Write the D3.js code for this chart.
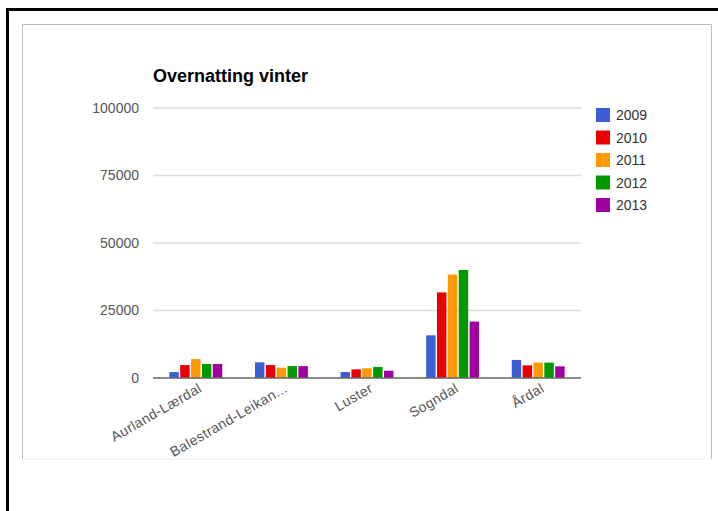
<!DOCTYPE html>
<html>
<head>
<meta charset="utf-8">
<script src="https://cdn.jsdelivr.net/npm/d3@7/dist/d3.min.js"></script>
<style>
  html, body { margin: 0; padding: 0; background: #fff; }
  svg { display: block; }
  text { font-family: Arial, "Liberation Sans", sans-serif; }
</style>
</head>
<body>
<svg id="chart" width="718" height="511"></svg>
<script>
// Winter overnight stays per municipality, 2009–2013
const categories = ["Aurland-Lærdal", "Balestrand-Leikan...", "Luster", "Sogndal", "Årdal"];
const years = ["2009", "2010", "2011", "2012", "2013"];
const v2009 = [2200, 5800, 2200, 15800, 6700];
const v2010 = [4800, 4800, 3200, 31700, 4700];
const v2011 = [7000, 3800, 3600, 38300, 5700];
const v2012 = [5200, 4400, 4100, 40000, 5700];
const v2013 = [5200, 4400, 2700, 20900, 4300];
const series = [v2009, v2010, v2011, v2012, v2013];
const yTicks = [0, 25000, 50000, 75000, 100000];
const colors = ["#3b5fd6", "#ea0000", "#ff9900", "#009a00", "#a000a0"];

const svg = d3.select("#chart");

// outer frame (black) and inner panel (grey)
svg.append("path")
  .attr("d", "M7.5,520 L7.5,9.5 L730,9.5")
  .attr("fill", "none").attr("stroke", "#000").attr("stroke-width", 3);
svg.append("path")
  .attr("d", "M22.5,459 L22.5,24.5 L711.5,24.5 L711.5,459")
  .attr("fill", "none").attr("stroke", "#bdbdbd").attr("stroke-width", 1);
svg.append("line")
  .attr("x1", 22.5).attr("x2", 711.5).attr("y1", 459.5).attr("y2", 459.5)
  .attr("stroke", "#f0f0f0").attr("stroke-width", 1);

const plot = { left: 153, right: 581, top: 108, bottom: 378 };

const x0 = d3.scaleBand().domain(categories).range([plot.left, plot.right]).padding(0);
const groupW = x0.bandwidth() * 0.618;
const x1 = d3.scaleBand().domain(years).range([0, groupW]).paddingInner(0.13).paddingOuter(0);
const y = d3.scaleLinear().domain([0, 100000]).range([plot.bottom, plot.top]);

// gridlines
svg.append("g").selectAll("line")
  .data(yTicks.filter(d => d !== 0))
  .join("line")
  .attr("x1", plot.left).attr("x2", plot.right)
  .attr("y1", d => y(d)).attr("y2", d => y(d))
  .attr("stroke", "#dcdcdc").attr("stroke-width", 1.5);

// y axis labels
const yAxis = d3.axisLeft(y).tickValues(yTicks).tickSize(0).tickPadding(14).tickFormat(d3.format("d"));
const gy = svg.append("g").attr("transform", `translate(${plot.left},0)`).call(yAxis);
gy.select(".domain").remove();
gy.selectAll("text")
  .attr("fill", "#555").attr("font-size", 14)
  .attr("font-family", "Arial, 'Liberation Sans', sans-serif");

// bars
const rows = categories.map((c, i) => ({ cat: c, vals: series.map(s => s[i]) }));
const groups = svg.append("g").selectAll("g")
  .data(rows)
  .join("g")
  .attr("transform", d => `translate(${x0(d.cat) + (x0.bandwidth() - groupW) / 2},0)`);
groups.selectAll("rect")
  .data(d => d.vals.map((v, k) => ({ year: years[k], v, k })))
  .join("rect")
  .attr("x", d => x1(d.year))
  .attr("width", x1.bandwidth())
  .attr("y", d => y(d.v))
  .attr("height", d => y(0) - y(d.v))
  .attr("fill", d => colors[d.k]);

// baseline
svg.append("line")
  .attr("x1", plot.left).attr("x2", plot.right)
  .attr("y1", y(0)).attr("y2", y(0))
  .attr("stroke", "#666").attr("stroke-width", 1.5);

// category labels, rotated
svg.append("g").selectAll("text")
  .data(categories)
  .join("text")
  .attr("transform", d => `translate(${x0(d) + x0.bandwidth() / 2 + 7},${plot.bottom + 13}) rotate(-30)`)
  .attr("text-anchor", "end")
  .attr("font-size", 14)
  .attr("letter-spacing", 0.4)
  .attr("fill", "#555")
  .text(d => d);

// title
svg.append("text")
  .attr("x", 153).attr("y", 82)
  .attr("font-size", 18).attr("font-weight", "bold").attr("fill", "#000")
  .text("Overnatting vinter");

// legend
const legend = svg.append("g").attr("transform", "translate(596,108)");
const li = legend.selectAll("g").data(years).join("g")
  .attr("transform", (d, i) => `translate(0,${i * 22.5})`);
li.append("rect").attr("width", 14).attr("height", 14).attr("fill", (d, i) => colors[i]);
li.append("text").attr("x", 20).attr("y", 12).attr("font-size", 14).attr("fill", "#333").text(d => d);
</script>
</body>
</html>
